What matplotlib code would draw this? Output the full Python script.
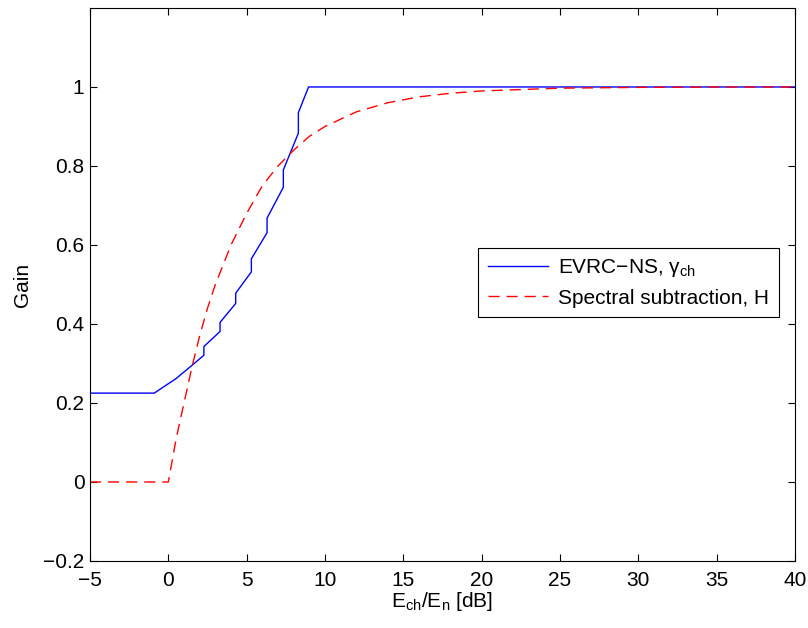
import matplotlib
matplotlib.use("Agg")
import matplotlib.pyplot as plt

plt.rcParams["font.family"] = ["Liberation Sans", "DejaVu Sans"]
plt.rcParams["mathtext.default"] = "regular"

# EVRC-NS channel gain (staircase)
evrc_x = [-5, -0.9, 0.5, 1.5, 2.27, 2.27, 3.3, 3.3, 4.3, 4.3, 5.3, 5.3,
          6.3, 6.3, 7.34, 7.34, 8.3, 8.3, 8.95, 40]
evrc_gain = [0.225, 0.225, 0.262, 0.295, 0.321, 0.343, 0.381, 0.404, 0.452, 0.478,
             0.532, 0.565, 0.631, 0.668, 0.746, 0.790, 0.883, 0.935, 1.0, 1.0]

# spectral subtraction gain H
ss_x = [-5, 0, 0.5, 1, 1.5, 2, 2.5, 3, 4, 5, 6, 7, 8, 9, 10, 12, 14, 16, 18,
        20, 25, 30, 35, 40]
ss_gain = [0, 0, 0.11, 0.20, 0.29, 0.37, 0.44, 0.50, 0.60, 0.68, 0.75, 0.80,
           0.84, 0.875, 0.90, 0.937, 0.96, 0.975, 0.984, 0.99, 0.997, 0.999, 1.0, 1.0]

xticks = [-5, 0, 5, 10, 15, 20, 25, 30, 35, 40]
yticks = [-0.2, 0, 0.2, 0.4, 0.6, 0.8, 1]

FS = 15

fig = plt.figure(figsize=(8.08, 6.28), dpi=100)
ax = fig.add_axes([0.1114, 0.1067, 0.8725, 0.8806])

ax.plot(evrc_x, evrc_gain, color="#0000ff", linewidth=1.0,
        label="EVRC\u2212NS, $\\gamma_{ch}$")
ax.plot(ss_x, ss_gain, color="#ff0000", linewidth=1.0, linestyle="--",
        dashes=(8, 5), label="Spectral subtraction, H")

ax.set_xlim(-5, 40)
ax.set_ylim(-0.2, 1.2)
ax.set_xticks(xticks)
ax.set_xticklabels([str(t).replace("-", "\u2212") for t in xticks])
ax.set_yticks(yticks)
ax.set_yticklabels([("%g" % t).replace("-", "\u2212") for t in yticks])
ax.tick_params(direction="in", top=True, right=True, labelsize=FS, length=5)
ax.tick_params(axis="x", pad=7)
ax.tick_params(axis="y", pad=4)
for s in ax.spines.values():
    s.set_linewidth(0.8)

ax.set_xlabel("E$_{ch}$/E$_{n}$ [dB]", fontsize=FS, labelpad=0)
ax.set_ylabel("Gain", fontsize=FS, labelpad=8)

leg = ax.legend(loc="upper right", bbox_to_anchor=(0.977, 0.566),
                borderaxespad=0, fontsize=FS, fancybox=False, framealpha=1,
                edgecolor="black", handlelength=2.9, handletextpad=0.5,
                borderpad=0.45, labelspacing=0.45)
leg.get_frame().set_linewidth(0.8)

fig.savefig("out.png", dpi=100)
